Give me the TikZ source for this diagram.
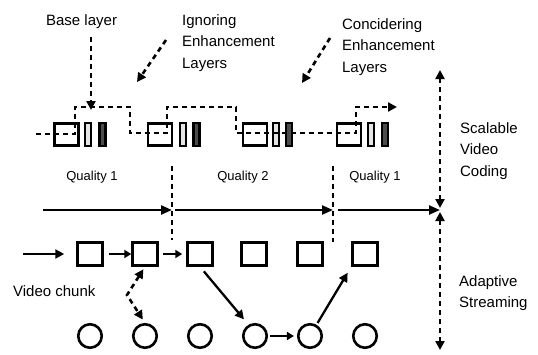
\documentclass[tikz,border=0pt]{standalone}
\usepackage{fontspec}
\setmainfont{Liberation Sans}
\usetikzlibrary{arrows.meta}

\begin{document}
\begin{tikzpicture}[
        x=1pt, y=-1pt,
        txt/.style = {anchor=north west, inner sep=0pt, align=left, font=\fontsize{15}{21.5}\selectfont},
        qual/.style = {anchor=base, inner sep=0pt, font=\fontsize{13}{15}\selectfont},
        base/.style = {draw, line width=2.8pt, fill=white, minimum width=24pt, minimum height=22pt, inner sep=0pt},
        enh/.style = {draw, line width=2.4pt, minimum width=6pt, minimum height=22.5pt, inner sep=0pt},
        chunk/.style = {draw, line width=3pt, minimum width=24.5pt, minimum height=22.5pt, inner sep=0pt},
        rep/.style = {circle, draw, line width=2.6pt, minimum size=23.5pt, inner sep=0pt},
        dsh/.style = {line width=2.6pt, dash pattern=on 5pt off 4pt},
        tip/.style = {-{Triangle[length=9pt,width=9pt]}},
        tips/.style = {{Triangle[length=9pt,width=9pt]}-{Triangle[length=9pt,width=9pt]}},
        line width=2.3pt
    ]
        \useasboundingbox (0,0) rectangle (538,354);
        \node[txt] (base) at (45,13) {Base layer};
        \node[txt] (ign) at (181,13) {Ignoring\\Enhancement\\Layers};
        \node[txt] (con) at (341,17) {Concidering\\Enhancement\\Layers};
        \node[txt] (svc) at (459,121) {Scalable\\Video\\Coding};
        \node[txt] (as) at (458,274) {Adaptive\\Streaming};
        \node[txt] (vc) at (12,284) {Video chunk};
        \node[qual] (q1) at (92,180) {Quality 1};
        \node[qual] (q2) at (243,180) {Quality 2};
        \node[qual] (q3) at (375,180) {Quality 1};
        \node[base] (b1) at (66.5,134.5) {}; \node[enh,fill=gray!20] (l1) at (88,134.5) {}; \node[enh,fill=black!70] (d1) at (102.5,134.5) {};
        \node[base] (b2) at (160,134.5) {}; \node[enh,fill=gray!20] (l2) at (183,134.5) {}; \node[enh,fill=black!70] (d2) at (196.5,134.5) {};
        \node[base] (b3) at (255,134.5) {}; \node[enh,fill=gray!20] (l3) at (276,134.5) {}; \node[enh,fill=black!70] (d3) at (289,134.5) {};
        \node[base] (b4) at (349,134.5) {}; \node[enh,fill=gray!20] (l4) at (371,134.5) {}; \node[enh,fill=black!70] (d4) at (385,134.5) {};
        \coordinate (in) at (36,134);
        \coordinate (out) at (397,107);
        \draw[dsh,tip] (in) -| (75,107) -| (130,133) -| (167,107) -| (236,133) -| (356,107) -- (out);
        \coordinate (bl) at (91,37);
        \coordinate (bl') at (91,110);
        \draw[dsh,tip] (bl) -- (bl');
        \coordinate (ig) at (166,40);
        \coordinate (ig') at (137,82);
        \draw[dsh,tip] (ig) -- (ig');
        \coordinate (co) at (330,38);
        \coordinate (co') at (302,83);
        \draw[dsh,tip] (co) -- (co');
        \coordinate (v1) at (172,166); \coordinate (v1') at (172,240);
        \coordinate (v2) at (333,166); \coordinate (v2') at (333,242);
        \draw[dsh] (v1) -- (v1');
        \draw[dsh] (v2) -- (v2');
        \coordinate (t0) at (43,210);
        \coordinate (sv) at (440,210);
        \draw[-{Triangle[length=11pt,width=9pt]}] (t0) -- (v1 |- t0);
        \draw[-{Triangle[length=11pt,width=9pt]}, shorten <=3pt] (v1 |- t0) -- (v2 |- t0);
        \draw[-{Triangle[length=11pt,width=9pt]}, shorten <=5pt] (v2 |- t0) -- (sv);
        \coordinate (top) at (440,70);
        \coordinate (bot) at (440,350);
        \draw[dsh,tips, shorten >=2pt] (top) -- (sv);
        \draw[dsh,tips, shorten <=2pt] (sv) -- (bot);
        \node[chunk] (s1) at (90,254) {}; \node[chunk] (s2) at (145,254) {}; \node[chunk] (s3) at (200,254) {};
        \node[chunk] (s4) at (254,254) {}; \node[chunk] (s5) at (310,254) {}; \node[chunk] (s6) at (365,254) {};
        \node[rep] (c1) at (90,336) {}; \node[rep] (c2) at (145,336) {}; \node[rep] (c3) at (200,336) {};
        \node[rep] (c4) at (255,336) {}; \node[rep] (c5) at (310,336) {}; \node[rep] (c6) at (365,336) {};
        \coordinate (vin) at (23,254);
        \draw[tip, shorten >=12pt] (vin) -- (s1);
        \draw[-{Triangle[length=7pt,width=8pt]}, shorten <=5pt] (s1) -- (s2);
        \draw[-{Triangle[length=7pt,width=8pt]}, shorten <=4pt, shorten >=4pt] (s2) -- (s3);
        \coordinate (bend) at (127,295);
        \draw[dsh,tips, shorten <=3pt, shorten >=4pt] (s2.south) -- (bend) -- (c2.north);
        \draw[tip, shorten <=6pt, shorten >=7pt] (s3.south) -- (c4.120);
        \draw[-{Triangle[length=7pt,width=8pt]}, shorten <=2pt, shorten >=3pt] (c4) -- (c5);
        \draw[tip, shorten <=2pt, shorten >=7pt] (c5.60) -- (s6.south west);
\end{tikzpicture}
\end{document}
